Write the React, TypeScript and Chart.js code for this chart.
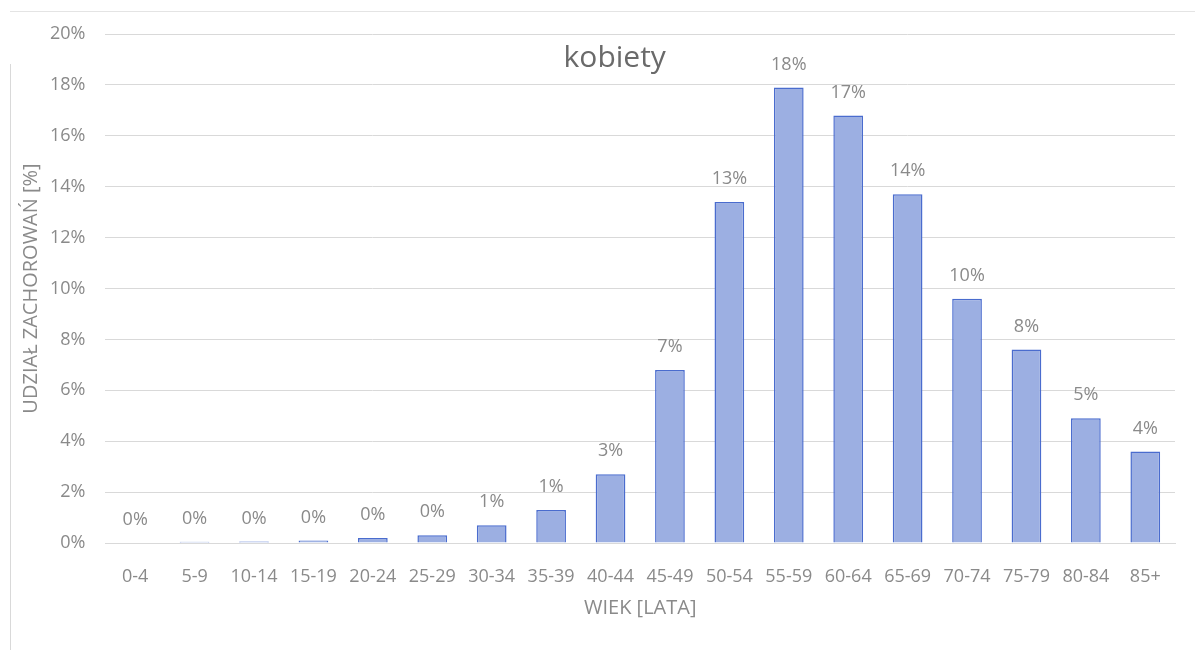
import React, { useEffect, useRef } from "react";
import { Chart, registerables } from "chart.js";

Chart.register(...registerables);

const categories = ["0-4", "5-9", "10-14", "15-19", "20-24", "25-29", "30-34", "35-39", "40-44", "45-49", "50-54", "55-59", "60-64", "65-69", "70-74", "75-79", "80-84", "85+"];
const shares = [0.02, 0.05, 0.06, 0.1, 0.2, 0.3, 0.7, 1.3, 2.7, 6.8, 13.4, 17.9, 16.8, 13.7, 9.6, 7.6, 4.9, 3.6];
const titleText = "kobiety";
const yTitle = "UDZIAŁ ZACHOROWAŃ [%]";
const xTitle = "WIEK [LATA]";

const FONT = "'Open Sans', 'Liberation Sans', sans-serif";

const labelsPlugin = {
  id: "valueLabels",
  afterDatasetsDraw(chart: any) {
    const ctx = chart.ctx;
    const meta = chart.getDatasetMeta(0);
    ctx.save();
    ctx.font = `18px ${FONT}`;
    ctx.fillStyle = "#8a8a8a";
    ctx.textAlign = "center";
    ctx.textBaseline = "bottom";
    meta.data.forEach((el: any, i: number) => {
      const v = shares[i];
      ctx.fillText(`${Math.round(v)}%`, el.x, el.y - 14);
    });
    ctx.restore();
  },
};

const titlePlugin = {
  id: "innerTitle",
  afterDraw(chart: any) {
    const ctx = chart.ctx;
    const a = chart.chartArea;
    ctx.save();
    ctx.font = `30px ${FONT}`;
    ctx.fillStyle = "#6a6a6a";
    ctx.textAlign = "center";
    ctx.textBaseline = "alphabetic";
    ctx.fillText(titleText, chart.width * 0.511, a.top + 33);
    ctx.restore();
  },
};

export default function App() {
  const ref = useRef<HTMLCanvasElement>(null);
  useEffect(() => {
    if (!ref.current) return;
    const chart = new Chart(ref.current, {
      type: "bar",
      data: {
        labels: categories,
        datasets: [
          {
            data: shares,
            backgroundColor: "#9cafe2",
            borderColor: "#4a6cce",
            borderWidth: 1.5,
            barPercentage: 0.5,
            categoryPercentage: 1,
          },
        ],
      },
      options: {
        responsive: false,
        animation: false,
        layout: { padding: { left: 15, right: 28, top: 34, bottom: 30 } },
        plugins: {
          legend: { display: false },
          tooltip: { enabled: false },
          title: { display: false },
        },
        scales: {
          x: {
            grid: { display: false, drawTicks: false },
            border: { display: true, color: "#d9d9d9" },
            ticks: { color: "#8a8a8a", font: { size: 18, family: FONT, lineHeight: 1 }, padding: 25, maxRotation: 0, autoSkip: false },
            title: { display: true, text: xTitle, color: "#8a8a8a", font: { size: 20, family: FONT }, padding: { top: -15, bottom: 0 } },
          },
          y: {
            min: 0,
            max: 20,
            ticks: { stepSize: 2, color: "#8a8a8a", font: { size: 18, family: FONT }, padding: 20, callback: (v: any) => `${v}%` },
            grid: { color: "#d9d9d9", drawTicks: false },
            border: { display: false },
            title: { display: true, text: yTitle, color: "#8a8a8a", font: { size: 20, family: FONT }, padding: { top: 4, bottom: -13 } },
          },
        },
      },
      plugins: [labelsPlugin, titlePlugin],
    });
    return () => chart.destroy();
  }, []);
  return (
    <div style={{ position: "absolute", left: 0, top: 0, width: 1203, height: 650, background: "#fff" }}>
      <div style={{ position: "absolute", left: 10, top: 64, width: 1, height: 586, background: "#d9d9d9" }} />
      <div style={{ position: "absolute", left: 10, top: 11, width: 1185, height: 1, background: "#e4e4e4" }} />
      <canvas ref={ref} width={1203} height={650} style={{ position: "absolute", left: 0, top: 0 }} />
    </div>
  );
}
